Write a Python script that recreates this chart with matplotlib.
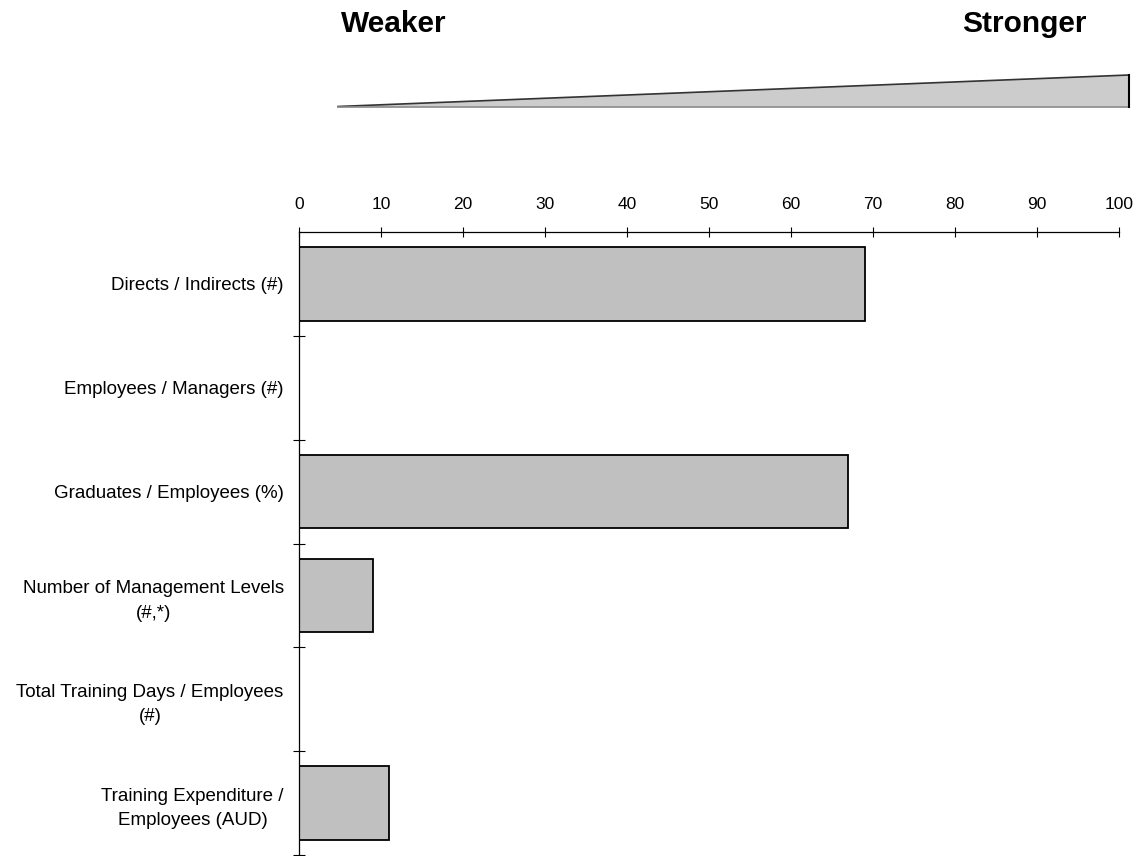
import matplotlib
matplotlib.use("Agg")
import matplotlib.pyplot as plt
from matplotlib.patches import Polygon
from matplotlib.lines import Line2D
import numpy as np

plt.rcParams['font.family'] = ['Liberation Sans', 'DejaVu Sans']

categories = [
    "Directs / Indirects (#)",
    "Employees / Managers (#)",
    "Graduates / Employees (%)",
    "Number of Management Levels\n(#,*)",
    "Total Training Days / Employees\n(#)",
    "Training Expenditure /\nEmployees (AUD)",
]
scores = [69, 0, 67, 9, 0, 11]
x_ticks = [0, 10, 20, 30, 40, 50, 60, 70, 80, 90, 100]

W, H = 1145, 856
fig = plt.figure(figsize=(W / 100, H / 100), dpi=100)
ax = fig.add_axes([299 / W, 1 - 855 / H, (1119 - 299) / W, (855 - 232) / H])

y = np.arange(len(categories))
ax.barh(y, scores, height=0.71, color="#c0c0c0", edgecolor="black", linewidth=1.3)

ax.set_xlim(0, 100)
ax.set_ylim(len(categories) - 0.5, -0.5)

ax.xaxis.tick_top()
ax.set_xticks(x_ticks)
ax.tick_params(axis="x", direction="inout", length=6.5, width=0.8, pad=11,
               labelsize=12.5, colors="black")

ax.set_yticks(y)
ax.set_yticklabels(categories, fontsize=13.5, multialignment="center",
                   linespacing=1.55)
ax.tick_params(axis="y", which="major", length=0, pad=11)
ax.set_yticks(np.arange(len(categories)) + 0.5, minor=True)
ax.tick_params(axis="y", which="minor", direction="inout", length=8.5, width=0.8)

for side in ("right", "bottom"):
    ax.spines[side].set_visible(False)
for side in ("top", "left"):
    ax.spines[side].set_linewidth(0.9)

# strength wedge above the scale
def fx(px):
    return px / W

def fy(py):
    return 1 - py / H

wedge = Polygon([(fx(338), fy(106.5)), (fx(1129), fy(75)), (fx(1129), fy(106.5))],
                closed=True, transform=fig.transFigure, facecolor="#cccccc",
                edgecolor="none")
fig.add_artist(wedge)
fig.add_artist(Line2D([fx(338), fx(1129)], [fy(106.5), fy(75)],
                      transform=fig.transFigure, color="#333333", lw=1.2))
fig.add_artist(Line2D([fx(338), fx(1129)], [fy(106.5), fy(106.5)],
                      transform=fig.transFigure, color="#888888", lw=1.2))
fig.add_artist(Line2D([fx(1129), fx(1129)], [fy(106.5), fy(75)],
                      transform=fig.transFigure, color="black", lw=1.5))

fig.text(fx(393.5), fy(24), "Weaker", fontsize=21.5, fontweight="bold",
         ha="center", va="center")
fig.text(fx(1024), fy(24), "Stronger", fontsize=21.5, fontweight="bold",
         ha="center", va="center")

fig.savefig("out.png", dpi=100, facecolor="white")
